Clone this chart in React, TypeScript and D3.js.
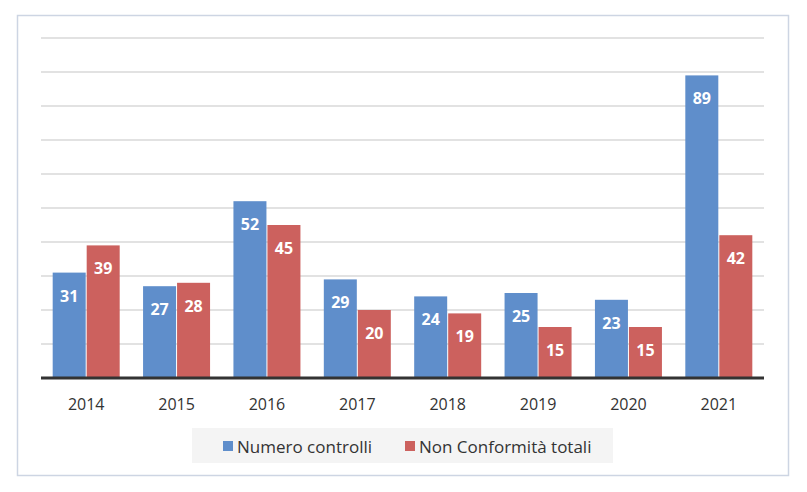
import * as d3 from 'd3'

const YEARS = ['2014', '2015', '2016', '2017', '2018', '2019', '2020', '2021']
const CONTROLLI = [31, 27, 52, 29, 24, 25, 23, 89]
const NON_CONFORMITA = [39, 28, 45, 20, 19, 15, 15, 42]
const SERIES_NAMES = ['Numero controlli', 'Non Conformità totali']
const Y_TICKS = [0, 10, 20, 30, 40, 50, 60, 70, 80, 90, 100]

const WIDTH = 807
const HEIGHT = 492
const PLOT = { left: 41, right: 764, top: 38, bottom: 378 }
const BLUE = '#5f8ecb'
const RED = '#cc615e'
const FONT = "'Open Sans', 'Noto Sans', sans-serif"

export default function App() {
  const xScale = d3.scaleBand().domain(YEARS).range([PLOT.left, PLOT.right])
  const yScale = d3.scaleLinear().domain([0, 100]).range([PLOT.bottom, PLOT.top])
  const barW = 33
  const gap = 1

  const bars = YEARS.map((yr, i) => {
    const cx = (xScale(yr) ?? 0) + xScale.bandwidth() / 2
    const vals = [CONTROLLI[i], NON_CONFORMITA[i]]
    return vals.map((v, s) => {
      const x = s === 0 ? cx - barW - gap / 2 : cx + gap / 2
      const y = yScale(v)
      return (
        <g key={yr + s}>
          <rect
            x={x}
            y={y}
            width={barW}
            height={PLOT.bottom - y}
            fill={s === 0 ? BLUE : RED}
          />
          <text
            x={x + barW / 2}
            y={y + 23}
            textAnchor="middle"
            dominantBaseline="central"
            fill="white"
            fontWeight="bold"
            fontSize={16}
            fontFamily={FONT}
          >
            {v}
          </text>
        </g>
      )
    })
  })

  return (
    <svg
      width={WIDTH}
      height={HEIGHT}
      style={{ position: 'absolute', left: 0, top: 0 }}
    >
      <rect x={0} y={0} width={WIDTH} height={HEIGHT} fill="white" />
      <rect
        x={17.5}
        y={15.5}
        width={771}
        height={460}
        fill="white"
        stroke="#cdd5e3"
        strokeWidth={1.5}
      />
      {/* gridlines */}
      {Y_TICKS.slice(1).map((t) => (
        <line
          key={t}
          x1={PLOT.left}
          x2={PLOT.right}
          y1={yScale(t)}
          y2={yScale(t)}
          stroke="#d9d9d9"
          strokeWidth={1.5}
        />
      ))}
      {bars}
      <line
        x1={PLOT.left}
        x2={PLOT.right}
        y1={PLOT.bottom}
        y2={PLOT.bottom}
        stroke="#333333"
        strokeWidth={3}
      />
      {YEARS.map((yr) => (
        <text
          key={yr}
          x={(xScale(yr) ?? 0) + xScale.bandwidth() / 2}
          y={404}
          textAnchor="middle"
          dominantBaseline="central"
          fill="#333333"
          fontSize={16}
          fontFamily={FONT}
        >
          {yr}
        </text>
      ))}
      {/* legend */}
      <rect x={192} y={428} width={421} height={35} fill="#f4f4f4" />
      <rect x={223} y={441} width={10} height={10} fill={BLUE} />
      <text x={237} y={446} dominantBaseline="central" fill="#333333" fontSize={17} fontFamily={FONT}>
        {SERIES_NAMES[0]}
      </text>
      <rect x={405} y={441} width={10} height={10} fill={RED} />
      <text x={419} y={446} dominantBaseline="central" fill="#333333" fontSize={17} fontFamily={FONT}>
        {SERIES_NAMES[1]}
      </text>
    </svg>
  )
}
